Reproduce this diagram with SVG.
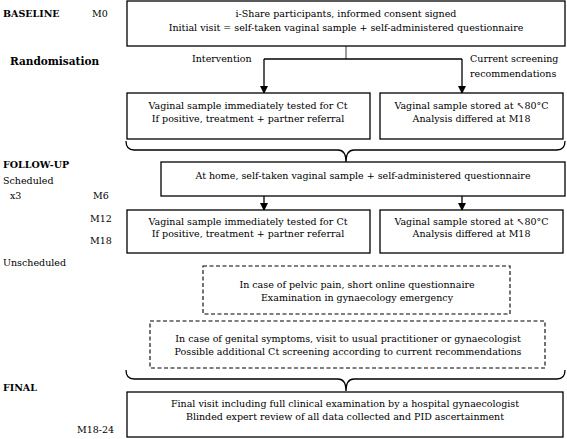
<svg xmlns="http://www.w3.org/2000/svg" width="567" height="439" viewBox="0 0 567 439">
<defs>
<marker id="ah" markerWidth="8" markerHeight="8" refX="7" refY="4" orient="auto" markerUnits="userSpaceOnUse">
<path d="M0,0 L8,4 L0,8 Z" fill="#000"/>
</marker>
<style>
text{font-family:"DejaVu Serif","Liberation Serif",serif;font-size:9.5px;fill:#000}
.c{text-anchor:middle}
.b{font-weight:bold}
.box{fill:#fff;stroke:#000;stroke-width:1.3}
.dash{fill:#fff;stroke:#000;stroke-width:1.1;stroke-dasharray:4 2.5}
.ln{fill:none;stroke:#000;stroke-width:1.3}
</style>
</defs>
<rect width="567" height="439" fill="#fff"/>
<g id="labels">
<text x="3" y="17" class="b">BASELINE</text>
<text x="92" y="17">M0</text>
<text x="10" y="65" class="b" style="font-size:10.5px">Randomisation</text>
<text x="3" y="168" class="b">FOLLOW-UP</text>
<text x="3" y="184">Scheduled</text>
<text x="10" y="199">x3</text>
<text x="93" y="199">M6</text>
<text x="90" y="222">M12</text>
<text x="90" y="244">M18</text>
<text x="3" y="266">Unscheduled</text>
<text x="3" y="391" class="b">FINAL</text>
<text x="77" y="433">M18-24</text>
<text x="192" y="62">Intervention</text>
<text x="470" y="62">Current screening</text>
<text x="470" y="77">recommendations</text>
</g>
<g id="connectors">
<path class="ln" d="M346,46 V59" style="stroke:#666"/>
<path class="ln" d="M264,59 H462"/>
<path class="ln" d="M264,59 V93" marker-end="url(#ah)"/>
<path class="ln" d="M462,59 V93" marker-end="url(#ah)"/>
<path class="ln" d="M126,141 Q126,150 134,150 H338 Q346,150 346,162 Q346,150 354,150 H557 Q565,150 565,141"/>
<path class="ln" d="M264,196 V210" marker-end="url(#ah)"/>
<path class="ln" d="M462,196 V210" marker-end="url(#ah)"/>
<path class="ln" d="M126,370 Q126,379 134,379 H338 Q346,379 346,391 Q346,379 354,379 H557 Q565,379 565,370"/>
</g>
<g id="n-baseline">
<rect class="box" x="127" y="1" width="438" height="45"/>
<text x="346" y="17" class="c">i-Share participants, informed consent signed</text>
<text x="346" y="31" class="c">Initial visit = self-taken vaginal sample + self-administered questionnaire</text>
</g>
<g id="n-int1">
<rect class="box" x="127" y="93" width="243" height="46"/>
<text x="248" y="109" class="c">Vaginal sample immediately tested for Ct</text>
<text x="248" y="122" class="c">If positive, treatment + partner referral</text>
</g>
<g id="n-ctl1">
<rect class="box" x="380" y="93" width="183" height="46"/>
<text x="471.5" y="109" class="c">Vaginal sample stored at ↖80°C</text>
<text x="471.5" y="122" class="c">Analysis differed at M18</text>
</g>
<g id="n-home">
<rect class="box" x="161" y="162" width="404" height="34"/>
<text x="363" y="179" class="c">At home, self-taken vaginal sample + self-administered questionnaire</text>
</g>
<g id="n-int2">
<rect class="box" x="127" y="210" width="243" height="43"/>
<text x="248" y="225" class="c">Vaginal sample immediately tested for Ct</text>
<text x="248" y="237" class="c">If positive, treatment + partner referral</text>
</g>
<g id="n-ctl2">
<rect class="box" x="380" y="210" width="183" height="43"/>
<text x="471.5" y="225" class="c">Vaginal sample stored at ↖80°C</text>
<text x="471.5" y="237" class="c">Analysis differed at M18</text>
</g>
<g id="n-pelvic">
<rect class="dash" x="203" y="266" width="307" height="48"/>
<text x="357" y="288" class="c">In case of pelvic pain, short online questionnaire</text>
<text x="357" y="301" class="c">Examination in gynaecology emergency</text>
</g>
<g id="n-genital">
<rect class="dash" x="150" y="321" width="395" height="47"/>
<text x="348" y="342" class="c">In case of genital symptoms, visit to usual practitioner or gynaecologist</text>
<text x="348" y="355" class="c">Possible additional Ct screening according to current recommendations</text>
</g>
<g id="n-final">
<rect class="box" x="127" y="392" width="436" height="45"/>
<text x="345" y="407" class="c">Final visit including full clinical examination by a hospital gynaecologist</text>
<text x="345" y="420" class="c">Blinded expert review of all data collected and PID ascertainment</text>
</g>
</svg>
